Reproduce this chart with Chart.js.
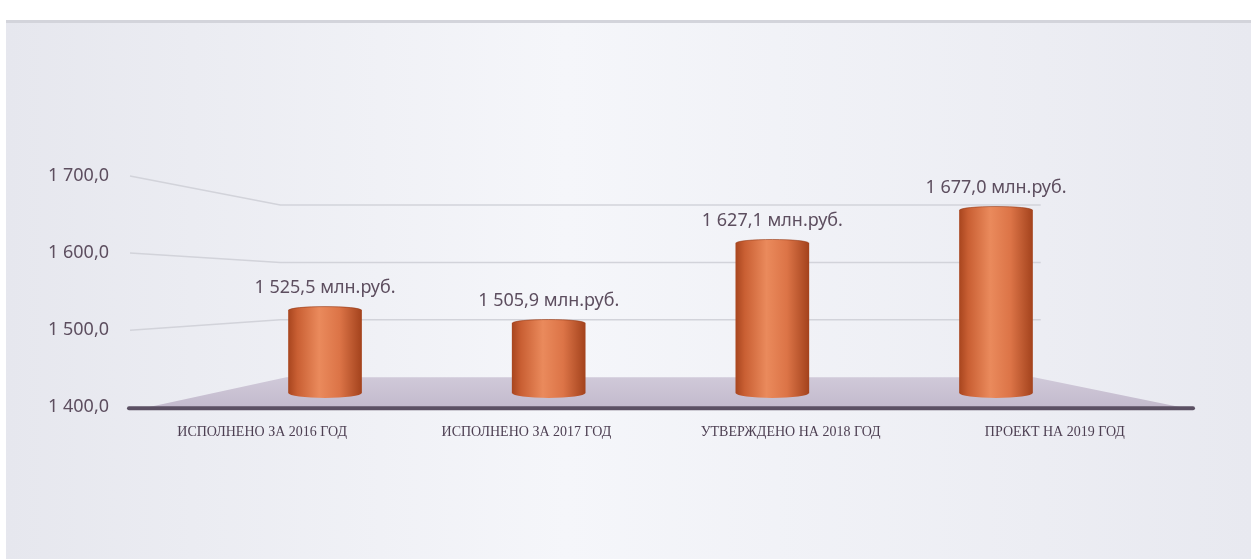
<!DOCTYPE html>
<html>
<head>
<meta charset="utf-8">
<script src="https://cdn.jsdelivr.net/npm/chart.js@4.4.1/dist/chart.umd.min.js"></script>
<style>
html,body{margin:0;padding:0;background:#fff;}
#wrap{width:1251px;height:559px;}
</style>
</head>
<body>
<div id="wrap"><canvas id="chart" width="1251" height="559"></canvas></div>
<script>
// data
const categories = ['ИСПОЛНЕНО ЗА 2016 ГОД', 'ИСПОЛНЕНО ЗА 2017 ГОД', 'УТВЕРЖДЕНО НА 2018 ГОД', 'ПРОЕКТ НА 2019 ГОД'];
const values = [1525.5, 1505.9, 1627.1, 1677.0];
const yTicks = [1400, 1500, 1600, 1700];
const unit = 'млн.руб.';

const textColor = '#5d4e5f';

// "1 525,5" style numbers
function fmt(v){
	const parts = v.toFixed(1).split('.');
	return parts[0].replace(/\B(?=(\d{3})+(?!\d))/g, ' ') + ',' + parts[1];
}

function cylGradient(ctx, x, w){
	const g = ctx.createLinearGradient(x - w/2, 0, x + w/2, 0);
	g.addColorStop(0, '#a9461f');
	g.addColorStop(0.12, '#c95f33');
	g.addColorStop(0.42, '#ea8a5c');
	g.addColorStop(0.7, '#dc7447');
	g.addColorStop(1, '#a4431d');
	return g;
}

const BAR_W = 73;

// background panel, back wall grid and floor
const scenePlugin = {
	id: 'scene',
	beforeDraw(chart){
		const {ctx, width, height} = chart;
		ctx.save();
		ctx.fillStyle = '#fff';
		ctx.fillRect(0, 0, width, height);
		const g = ctx.createLinearGradient(6, 0, width, 0);
		g.addColorStop(0, '#e6e7ee');
		g.addColorStop(0.45, '#f5f6fa');
		g.addColorStop(1, '#e8e9f0');
		ctx.fillStyle = g;
		ctx.fillRect(6, 20, width - 6, height - 20);
		ctx.fillStyle = '#d3d4db';
		ctx.fillRect(6, 20, width - 6, 3);
		ctx.restore();
	},
	beforeDatasetsDraw(chart){
		const {ctx, chartArea, scales} = chart;
		const y = scales.y, yw = scales.yw, xb = scales.xb;
		const wallL = xb.getPixelForValue(-0.2);
		const wallR = xb.getPixelForValue(3.2);
		const floorR = xb.getPixelForValue(3.17);
		ctx.save();
		// floor
		const fy = y.getPixelForValue(yTicks[0]);
		const by = yw.getPixelForValue(yTicks[0]);
		const fg = ctx.createLinearGradient(0, by, 0, fy);
		fg.addColorStop(0, '#d0c9d9');
		fg.addColorStop(1, '#c3bacd');
		ctx.fillStyle = fg;
		ctx.beginPath();
		ctx.moveTo(chartArea.left + 18, fy);
		ctx.lineTo(wallL + 6, by);
		ctx.lineTo(floorR, by);
		ctx.lineTo(chartArea.right - 6, fy);
		ctx.closePath();
		ctx.fill();
		// grid lines, bent onto the back wall
		ctx.strokeStyle = '#d2d3da';
		ctx.lineWidth = 1.5;
		yTicks.slice(1).forEach(v => {
			ctx.beginPath();
			ctx.moveTo(chartArea.left, y.getPixelForValue(v));
			ctx.lineTo(wallL, yw.getPixelForValue(v));
			ctx.lineTo(wallR, yw.getPixelForValue(v));
			ctx.stroke();
		});
		ctx.restore();
	},
	afterDatasetsDraw(chart){
		const {ctx, chartArea, scales} = chart;
		const meta = chart.getDatasetMeta(0);
		ctx.save();
		meta.data.forEach((el, i) => {
			const w = el.width;
			// rounded bottom and top of the cylinder
			ctx.fillStyle = cylGradient(ctx, el.x, w);
			ctx.beginPath();
			ctx.ellipse(el.x, el.base, w/2, 5, 0, 0, Math.PI);
			ctx.fill();
			ctx.beginPath();
			ctx.ellipse(el.x, el.y, w/2, 3.5, 0, 0, Math.PI*2);
			ctx.fill();
			ctx.strokeStyle = 'rgba(150,60,25,0.6)';
			ctx.lineWidth = 1;
			ctx.beginPath();
			ctx.ellipse(el.x, el.y, w/2 - 0.5, 3.5, 0, Math.PI, Math.PI*2);
			ctx.stroke();
			// value label
			ctx.fillStyle = textColor;
			ctx.font = '18px "Noto Sans"';
			ctx.textAlign = 'center';
			ctx.textBaseline = 'alphabetic';
			ctx.fillText(fmt(values[i]) + ' ' + unit, el.x, el.y - 17);
		});
		// axis base line
		const fy = scales.y.getPixelForValue(yTicks[0]);
		ctx.strokeStyle = '#5b5063';
		ctx.lineWidth = 4;
		ctx.lineCap = 'round';
		ctx.beginPath();
		ctx.moveTo(chartArea.left - 1, fy + 1);
		ctx.lineTo(chartArea.right + 6, fy + 1);
		ctx.stroke();
		ctx.restore();
	}
};

const ctx = document.getElementById('chart').getContext('2d');
new Chart(ctx, {
	type: 'bar',
	data: {
		labels: categories,
		datasets: [{
			data: values.map((v, i) => ({x: i, y: v})),
			xAxisID: 'xb',
			yAxisID: 'yb',
			base: yTicks[0],
			barThickness: BAR_W,
			borderWidth: 0,
			backgroundColor: (c) => {
				const xs = c.chart.scales.xb;
				if(!xs || c.dataIndex === undefined) return '#d8703f';
				const px = xs.getPixelForValue(c.dataIndex);
				if(!Number.isFinite(px)) return '#d8703f';
				return cylGradient(c.chart.ctx, px, BAR_W);
			}
		}]
	},
	options: {
		responsive: false,
		animation: false,
		layout: { padding: { top: 176, right: 64, bottom: 101, left: 0 } },
		plugins: { legend: { display: false }, tooltip: { enabled: false } },
		scales: {
			x: {
				type: 'category',
				offset: true,
				grid: { display: false, drawTicks: false },
				border: { display: false },
				ticks: {
					color: '#4e4053',
					font: { family: '"Liberation Serif"', size: 14 },
					padding: 17,
					maxRotation: 0,
					autoSkip: false
				}
			},
			y: {
				type: 'linear',
				position: 'left',
				min: yTicks[0],
				max: yTicks[yTicks.length - 1],
				afterBuildTicks: s => { s.ticks = yTicks.map(v => ({value: v})); },
				afterFit: s => { s.width = 130; },
				grid: { display: false },
				border: { display: false },
				ticks: {
					color: textColor,
					font: { family: '"Noto Sans"', size: 18 },
					padding: 13,
					callback: v => fmt(v)
				}
			},
			// bars stand in front of the back wall: own placement scales
			xb: { type: 'linear', display: false, offset: false, min: -0.872, max: 3.854 },
			yb: { type: 'linear', display: false, offset: false, beginAtZero: false, min: 1378.5, max: 1728.5 },
			yw: { type: 'linear', display: false, offset: false, min: 1347.7, max: 1750.6 }
		}
	},
	plugins: [scenePlugin]
});
</script>
</body>
</html>
